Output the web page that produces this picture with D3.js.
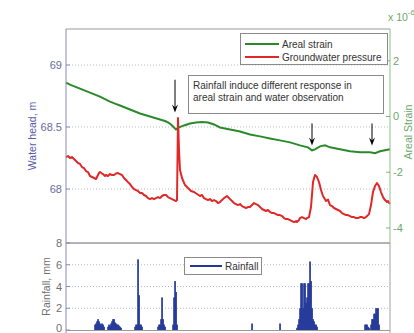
<!DOCTYPE html>
<html><head><meta charset="utf-8">
<script src="https://cdn.jsdelivr.net/npm/d3@7"></script>
<style>body{margin:0;background:#fff}svg{display:block;font-family:"Liberation Sans",Arial,sans-serif}</style>
</head><body><svg id="c" width="414" height="333"></svg>
<script>
// time index (arbitrary units), head in m, strain in 1e-6, rainfall in mm
const headSeries = [[0,68.258],[2,68.266],[4,68.250],[6,68.258],[8,68.242],[10,68.226],[12,68.210],[14,68.202],[16,68.177],[18,68.169],[20,68.145],[22,68.137],[24,68.105],[26,68.097],[28,68.089],[30,68.081],[31,68.097],[33,68.129],[34,68.137],[36,68.125],[37,68.121],[39,68.105],[40,68.113],[42,68.105],[44,68.121],[46,68.113],[48,68.113],[50,68.125],[52,68.129],[54,68.121],[56,68.113],[58,68.089],[60,68.073],[62,68.056],[64,68.040],[66,68.016],[68,68.000],[70,67.992],[72,67.984],[74,67.968],[76,67.968],[78,67.952],[80,67.944],[82,67.927],[84,67.919],[86,67.927],[88,67.919],[90,67.927],[92,67.935],[94,67.927],[96,67.944],[98,67.952],[100,67.952],[102,67.935],[104,67.927],[106,67.919],[108,67.911],[110,67.903],[111,67.911],[112,68.573],[113,68.315],[114,68.153],[116,68.089],[119,68.032],[122,68.008],[125,67.984],[128,67.976],[131,67.960],[134,67.944],[136,67.952],[138,67.927],[140,67.919],[142,67.911],[144,67.919],[146,67.903],[148,67.911],[150,67.903],[152,67.887],[154,67.895],[156,67.911],[158,67.927],[161,67.944],[164,67.919],[166,67.903],[168,67.887],[170,67.879],[172,67.871],[174,67.879],[176,67.863],[178,67.855],[180,67.847],[182,67.855],[184,67.855],[186,67.871],[188,67.887],[190,67.879],[192,67.871],[194,67.855],[196,67.839],[198,67.831],[200,67.823],[202,67.831],[204,67.815],[206,67.806],[208,67.806],[210,67.798],[212,67.790],[214,67.790],[216,67.782],[218,67.766],[220,67.758],[222,67.758],[224,67.750],[226,67.742],[228,67.734],[230,67.742],[231,67.734],[233,67.750],[234,67.766],[236,67.774],[238,67.766],[240,67.758],[241,67.766],[243,67.774],[245,67.855],[247,68.056],[249,68.113],[251,68.097],[253,68.056],[255,67.992],[257,67.944],[260,67.903],[262,67.915],[264,67.871],[266,67.863],[268,67.847],[270,67.839],[272,67.831],[274,67.823],[276,67.806],[278,67.798],[280,67.790],[282,67.790],[284,67.782],[286,67.774],[288,67.774],[290,67.766],[292,67.766],[294,67.774],[296,67.774],[298,67.766],[300,67.774],[302,67.790],[303,67.798],[305,67.871],[307,67.976],[309,68.024],[311,68.048],[313,68.024],[315,67.976],[317,67.935],[319,67.911],[321,67.895],[322,67.903],[324,67.879]];
const strainSeries = [[0,1.214],[4,1.143],[9,1.071],[14,1.000],[19,0.929],[24,0.857],[29,0.786],[34,0.714],[39,0.625],[44,0.536],[49,0.464],[54,0.393],[59,0.321],[64,0.250],[69,0.179],[74,0.107],[79,0.054],[84,0.0],[89,-0.054],[94,-0.107],[99,-0.161],[102,-0.214],[105,-0.286],[107,-0.357],[110,-0.464],[113,-0.393],[118,-0.321],[124,-0.250],[130,-0.214],[136,-0.196],[142,-0.214],[148,-0.286],[154,-0.393],[164,-0.464],[174,-0.536],[184,-0.643],[194,-0.714],[204,-0.786],[214,-0.857],[224,-0.929],[234,-1.036],[242,-1.107],[246,-1.214],[249,-1.179],[254,-1.071],[259,-1.036],[264,-1.107],[274,-1.179],[284,-1.250],[294,-1.286],[304,-1.286],[309,-1.321],[314,-1.250],[324,-1.179]];
const rainSeries = [[29,0.5],[30,0.6],[31,0.8],[32,1.0],[33,0.8],[34,0.6],[35,0.5],[36,0.6],[37,0.5],[38,0.3],
 [42,0.3],[43,0.5],[44,0.4],[45,0.6],[46,0.8],[47,1.0],[48,1.0],[49,0.7],[50,0.6],[51,0.5],[52,0.5],[53,0.4],[54,0.3],[55,0.2],
 [69,0.3],[70,0.5],[71,0.5],[72,6.5],[73,3.2],[74,0.5],[75,0.5],[76,0.3],
 [92,0.3],[93,0.5],[94,0.5],[95,1.0],[96,3.0],[97,1.0],[98,0.5],[99,0.3],
 [107,0.5],[108,3.0],[109,4.5],[110,3.5],[111,0.5],
 [186,0.6],[214,0.6],
 [231,0.2],[232,0.5],[233,1.0],[234,2.0],[235,4.3],[236,4.3],[237,2.0],[238,4.3],[239,4.3],[240,2.5],[241,3.0],[242,4.3],[243,4.3],[244,6.3],[245,4.5],[246,2.0],[247,1.0],[248,0.8],[249,0.5],[250,0.5],[251,0.3],
 [299,0.5],[300,0.5],[301,0.5],[302,0.3],[303,0.2],[305,0.5],[306,1.0],[307,1.0],[308,1.5],[309,1.5],[310,2.0],[311,2.0],[312,2.0],[313,0.5]];
const headTicks = [68, 68.5, 69];
const strainTicks = [-4, -2, 0, 2];
const rainTicks = [0, 2, 4, 6, 8];
const arrowT = [109, 246, 306];
const arrowFrom = [1.32, -0.25, -0.25];
const arrowTo = [0.14, -1.04, -1.04];
const legendTop = ["Areal strain", "Groundwater pressure"];
const noteLines = ["Rainfall induce different response in", "areal strain and water observation"];

const svg = d3.select("#c");
const L = 66, R = 390, T = 29, M = 243, B = 330;
const GREEN = "#2a8a2a", RED = "#e02828", BLUE = "#24389a";
const x = d3.scaleLinear().domain([0, 324]).range([L, R]);
const yH = d3.scaleLinear().domain([67.565, 69.29]).range([M, T]);
const yS = d3.scaleLinear().domain([-4.54, 3.14]).range([M, T]);
const yR = d3.scaleLinear().domain([0, 8]).range([B, M]);

// grid
svg.append("g").selectAll("line").data(headTicks).join("line")
  .attr("x1", L).attr("x2", R).attr("y1", d => yH(d)).attr("y2", d => yH(d))
  .attr("stroke", "#b8b8c8").attr("stroke-dasharray", "1,2");
svg.append("g").selectAll("line").data(rainTicks.filter(d => d > 0 && d < 8)).join("line")
  .attr("x1", L).attr("x2", R).attr("y1", d => yR(d)).attr("y2", d => yR(d))
  .attr("stroke", "#b8b8c8").attr("stroke-dasharray", "1,2");

// rain bars
svg.append("g").selectAll("rect").data(rainSeries).join("rect")
  .attr("x", d => x(d[0]) - 0.8).attr("width", 1.7)
  .attr("y", d => yR(d[1])).attr("height", d => yR(0) - yR(d[1]))
  .attr("fill", BLUE);

// lines
const lineS = d3.line().x(d => x(d[0])).y(d => yS(d[1]));
const lineH = d3.line().x(d => x(d[0])).y(d => yH(d[1]));
svg.append("path").datum(strainSeries).attr("d", lineS).attr("fill", "none").attr("stroke", GREEN).attr("stroke-width", 2);
svg.append("path").datum(headSeries).attr("d", lineH).attr("fill", "none").attr("stroke", RED).attr("stroke-width", 2).attr("stroke-linejoin", "round");

// frames
svg.append("line").attr("x1", L).attr("x2", R).attr("y1", T).attr("y2", T).attr("stroke", "#9a9a9a");
svg.append("line").attr("x1", L).attr("x2", R).attr("y1", M).attr("y2", M).attr("stroke", "#9a9a9a").attr("stroke-width", 1.5);
svg.append("line").attr("x1", L).attr("x2", L).attr("y1", T).attr("y2", M).attr("stroke", "#8a8ab8");
svg.append("line").attr("x1", R).attr("x2", R).attr("y1", T).attr("y2", M).attr("stroke", "#8fbf8f");
svg.append("line").attr("x1", L).attr("x2", L).attr("y1", M).attr("y2", 333).attr("stroke", "#8a8ab8");
svg.append("line").attr("x1", R).attr("x2", R).attr("y1", M).attr("y2", 333).attr("stroke", "#a0a0a0");
svg.append("line").attr("x1", L).attr("x2", R).attr("y1", B + 0.5).attr("y2", B + 0.5).attr("stroke", "#9a9a9a");

// left axis (head)
const gH = svg.append("g");
gH.selectAll("line").data(headTicks).join("line")
  .attr("x1", L).attr("x2", L + 4).attr("y1", d => yH(d)).attr("y2", d => yH(d)).attr("stroke", "#8a8ab8");
gH.selectAll("text").data(headTicks).join("text")
  .attr("x", L - 4).attr("y", d => yH(d) + 4).attr("text-anchor", "end")
  .attr("font-size", 11).attr("fill", "#6a6a9a").text(d => d3.format("~g")(d));
svg.append("text").attr("transform", `translate(36,136) rotate(-90)`)
  .attr("text-anchor", "middle").attr("font-size", 10.5).attr("fill", "#5a5aaa").text("Water head, m");

// right axis (strain)
const gS = svg.append("g");
gS.selectAll("line").data(strainTicks).join("line")
  .attr("x1", R - 4).attr("x2", R).attr("y1", d => yS(d)).attr("y2", d => yS(d)).attr("stroke", "#7fb07f");
gS.selectAll("text").data(strainTicks).join("text")
  .attr("x", R + 3).attr("y", d => yS(d) + 4).attr("text-anchor", "start")
  .attr("font-size", 11).attr("fill", "#6aa86a").text(d => d);
svg.append("text").attr("transform", `translate(412,132) rotate(-90)`)
  .attr("text-anchor", "middle").attr("font-size", 10.5).attr("fill", "#6aa86a").text("Areal Strain");
const sc = svg.append("text").attr("x", 388).attr("y", 21).attr("font-size", 10.5).attr("fill", "#6aa86a");
sc.append("tspan").text("x 10");
sc.append("tspan").attr("dy", -6).attr("font-size", 8).text("-6");

// rain axis
const gR = svg.append("g");
gR.selectAll("line").data(rainTicks).join("line")
  .attr("x1", L).attr("x2", L + 4).attr("y1", d => yR(d)).attr("y2", d => yR(d)).attr("stroke", "#8a8ab8");
gR.selectAll("text").data(rainTicks).join("text")
  .attr("x", L - 4).attr("y", d => Math.min(yR(d) + 4, 332)).attr("text-anchor", "end")
  .attr("font-size", 11).attr("fill", "#707070").text(d => d);
svg.append("text").attr("transform", `translate(50,${(M + B) / 2}) rotate(-90)`)
  .attr("text-anchor", "middle").attr("font-size", 10.5).attr("fill", "#707070").text("Rainfall, mm");

// top legend
const lg = svg.append("g");
lg.append("rect").attr("x", 240.5).attr("y", 33.5).attr("width", 147).attr("height", 31).attr("fill", "#fff").attr("stroke", "#8a8a8a");
[GREEN, RED].forEach((c, i) => {
  lg.append("line").attr("x1", 245).attr("x2", 279).attr("y1", 44 + i * 13).attr("y2", 44 + i * 13).attr("stroke", c).attr("stroke-width", 2);
  lg.append("text").attr("x", 282).attr("y", 48 + i * 13).attr("font-size", 10).attr("fill", "#333").text(legendTop[i]);
});

// note box
const nb = svg.append("g");
nb.append("rect").attr("x", 188.5).attr("y", 75.5).attr("width", 195).attr("height", 38).attr("fill", "#fff").attr("stroke", "#8a8a8a");
noteLines.forEach((t, i) => nb.append("text").attr("x", 193).attr("y", 89 + i * 12).attr("font-size", 10).attr("fill", "#333").text(t));

// arrows
arrowT.forEach((t, i) => {
  const ax = x(t), y0 = yS(arrowFrom[i]), y1 = yS(arrowTo[i]);
  svg.append("line").attr("x1", ax).attr("x2", ax).attr("y1", y0).attr("y2", y1 - 4).attr("stroke", "#000").attr("stroke-width", 1);
  svg.append("path").attr("d", `M${ax - 3},${y1 - 8} L${ax},${y1} L${ax + 3},${y1 - 8} L${ax},${y1 - 5} Z`).attr("fill", "#000");
});

// rain legend
const rl = svg.append("g");
rl.append("rect").attr("x", 184.5).attr("y", 257.5).attr("width", 77).attr("height", 17).attr("fill", "#fff").attr("stroke", "#8a8a8a");
rl.append("line").attr("x1", 190).attr("x2", 222).attr("y1", 266).attr("y2", 266).attr("stroke", BLUE).attr("stroke-width", 2);
rl.append("text").attr("x", 225).attr("y", 270).attr("font-size", 10).attr("fill", "#333").text("Rainfall");
</script></body></html>
